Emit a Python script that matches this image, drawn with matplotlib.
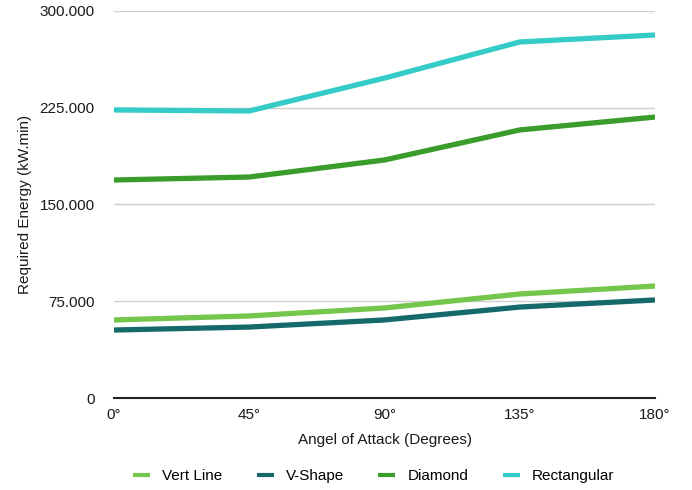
import matplotlib
matplotlib.use("Agg")
import matplotlib.pyplot as plt
from matplotlib.ticker import FuncFormatter

plt.rcParams['font.family'] = ['Liberation Sans', 'DejaVu Sans']

angles = ["0°", "45°", "90°", "135°", "180°"]
vert_line = [60500, 63600, 69800, 80600, 86800]
v_shape = [52700, 55000, 60500, 70500, 76000]
diamond = [169000, 171300, 184500, 207800, 217800]
rectangular = [223300, 222500, 248000, 276000, 281400]

series_names = ["Vert Line", "V-Shape", "Diamond", "Rectangular"]
series_values = [vert_line, v_shape, diamond, rectangular]
colors = ["#74c64c", "#16696b", "#3a9d2b", "#35cbc6"]

fs = 11
fig = plt.figure(figsize=(6.92, 4.9), dpi=100)
ax = fig.add_axes([114/692, 1 - 398/490, (655-114)/692, (398-11)/490])

x = list(range(len(angles)))
for name, vals, c in zip(series_names, series_values, colors):
    ax.plot(x, vals, color=c, lw=3.8, solid_joinstyle='round', solid_capstyle='butt', label=name, zorder=3)

ax.set_xlim(0, 4)
ax.set_ylim(0, 300000)
ax.set_yticks([0, 75000, 150000, 225000, 300000])
ax.yaxis.set_major_formatter(FuncFormatter(lambda v, p: "0" if v == 0 else f"{int(v):,}".replace(",", ".")))
ax.set_xticks(x)
ax.set_xticklabels(angles)
ax.grid(axis='y', color='#d0d0d0', lw=1.0, zorder=0)
for s in ['left', 'right', 'top']:
    ax.spines[s].set_visible(False)
ax.spines['bottom'].set_color('#222222')
ax.spines['bottom'].set_linewidth(1.5)
ax.spines['bottom'].set_zorder(4)
ax.tick_params(axis='both', length=0, labelsize=fs, colors='#1a1a1a')
ax.tick_params(axis='y', pad=14)
ax.tick_params(axis='x', pad=7)
ax.set_xlabel("Angel of Attack (Degrees)", fontsize=fs, labelpad=8, color='#1a1a1a')
ax.set_ylabel("Required Energy (kW.min)", fontsize=fs, labelpad=5, color='#1a1a1a')

leg = fig.legend(loc='center', bbox_to_anchor=(0.54, 1 - 476/490), ncol=4, frameon=False,
                 fontsize=fs, handlelength=1.1, handletextpad=0.8, columnspacing=2.25)
for h in leg.get_lines():
    h.set_linewidth(3)

fig.savefig("out.png", dpi=100)
